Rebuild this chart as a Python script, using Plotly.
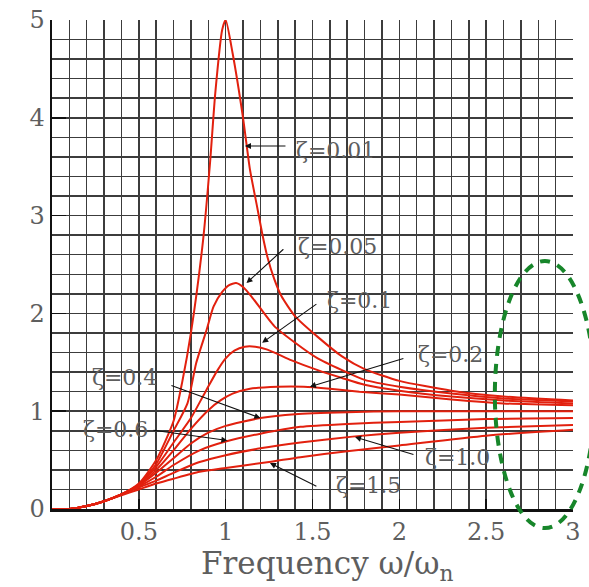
import plotly.graph_objects as go

# ---- data ----
zeta_labels = ["ζ=0.01", "ζ=0.05", "ζ=0.1", "ζ=0.2", "ζ=0.4", "ζ=0.6", "ζ=1.0", "ζ=1.5"]

x_001 = [0, 0.1, 0.2, 0.3, 0.4, 0.5, 0.6, 0.7, 0.75, 0.8, 0.87, 0.91, 0.94, 0.98, 1.0, 1.04, 1.1, 1.14, 1.18, 1.21, 1.24, 1.28, 1.32, 1.40, 1.53, 1.67, 1.8, 2.0, 2.3, 2.6, 3.0]
y_001 = [0, 0.0, 0.03, 0.08, 0.15, 0.26, 0.5, 0.9, 1.3, 1.8, 2.75, 3.54, 4.25, 4.9, 5.0, 4.66, 4.0, 3.47, 3.1, 2.82, 2.58, 2.35, 2.18, 1.97, 1.76, 1.56, 1.43, 1.31, 1.21, 1.15, 1.11]

x_005 = [0, 0.1, 0.2, 0.3, 0.4, 0.5, 0.6, 0.7, 0.78, 0.83, 0.89, 0.93, 0.98, 1.02, 1.06, 1.1, 1.15, 1.28, 1.40, 1.53, 1.67, 1.8, 2.0, 2.3, 2.6, 3.0]
y_005 = [0, 0.0, 0.03, 0.08, 0.15, 0.25, 0.46, 0.8, 1.08, 1.49, 1.83, 2.07, 2.22, 2.29, 2.31, 2.27, 2.17, 1.87, 1.70, 1.54, 1.42, 1.32, 1.25, 1.18, 1.13, 1.10]

x_01 = [0, 0.1, 0.2, 0.3, 0.4, 0.5, 0.6, 0.7, 0.8, 0.89, 0.95, 1.0, 1.05, 1.11, 1.17, 1.24, 1.38, 1.53, 1.67, 1.8, 2.0, 2.3, 2.6, 3.0]
y_01 = [0, 0.0, 0.03, 0.08, 0.15, 0.25, 0.43, 0.68, 0.93, 1.22, 1.41, 1.54, 1.62, 1.66, 1.66, 1.63, 1.52, 1.42, 1.34, 1.27, 1.21, 1.15, 1.11, 1.08]

x_02 = [0, 0.1, 0.2, 0.3, 0.4, 0.5, 0.6, 0.7, 0.8, 0.9, 0.97, 1.04, 1.14, 1.3, 1.45, 1.6, 1.77, 2.0, 2.3, 2.6, 3.0]
y_02 = [0, 0.0, 0.03, 0.08, 0.15, 0.24, 0.4, 0.6, 0.82, 1.01, 1.11, 1.18, 1.23, 1.25, 1.25, 1.23, 1.20, 1.17, 1.12, 1.08, 1.06]

x_04 = [0, 0.1, 0.2, 0.3, 0.4, 0.5, 0.6, 0.7, 0.8, 0.9, 1.0, 1.2, 1.4, 1.7, 2.0, 2.5, 3.0]
y_04 = [0, 0.0, 0.03, 0.08, 0.15, 0.24, 0.37, 0.52, 0.67, 0.78, 0.85, 0.93, 0.97, 0.99, 1.0, 1.0, 1.0]

x_06 = [0, 0.1, 0.2, 0.3, 0.4, 0.5, 0.6, 0.7, 0.85, 1.0, 1.2, 1.43, 1.7, 2.0, 2.5, 3.0]
y_06 = [0, 0.0, 0.03, 0.08, 0.15, 0.23, 0.33, 0.45, 0.6, 0.69, 0.77, 0.84, 0.87, 0.89, 0.92, 0.93]

x_10 = [0, 0.1, 0.2, 0.3, 0.4, 0.5, 0.6, 0.7, 0.85, 1.0, 1.2, 1.43, 1.73, 2.0, 2.5, 3.0]
y_10 = [0, 0.0, 0.03, 0.08, 0.15, 0.22, 0.29, 0.37, 0.48, 0.55, 0.62, 0.68, 0.74, 0.78, 0.83, 0.86]

x_15 = [0, 0.1, 0.2, 0.3, 0.4, 0.5, 0.6, 0.7, 0.85, 1.0, 1.25, 1.43, 1.7, 2.0, 2.5, 3.0]
y_15 = [0, 0.0, 0.03, 0.08, 0.14, 0.2, 0.26, 0.31, 0.38, 0.42, 0.48, 0.53, 0.59, 0.65, 0.75, 0.81]

curves_x = [x_001, x_005, x_01, x_02, x_04, x_06, x_10, x_15]
curves_y = [y_001, y_005, y_01, y_02, y_04, y_06, y_10, y_15]

x_tick_vals = [0.5, 1, 1.5, 2, 2.5, 3]
x_tick_text = ["0.5", "1", "1.5", "2", "2.5", "3"]
y_tick_vals = [0, 1, 2, 3, 4, 5]
y_tick_text = ["0", "1", "2", "3", "4", "5"]
x_title = "Frequency ω/ω<sub>n</sub>"

# label placement in data units: arrow head, arrow tail, text centre
label_heads = [(1.111, 3.712), (1.12, 2.31), (1.21, 1.70), (1.485, 1.25), (1.20, 0.93), (1.01, 0.70), (1.745, 0.736), (1.255, 0.47)]
label_tails = [(1.353, 3.712), (1.341, 2.67), (1.531, 2.106), (2.032, 1.544), (0.679, 1.268), (0.576, 0.808), (2.09, 0.552), (1.531, 0.225)]
label_texts = [(1.635, 3.67), (1.646, 2.68), (1.773, 2.137), (2.297, 1.575), (0.415, 1.34), (0.363, 0.81), (2.337, 0.53), (1.82, 0.245)]

RED = "#e2200e"
GRID = "#3c3c3c"
TXT = "#5e5e5e"
SERIF = "DejaVu Serif"

fig = go.Figure()
for name, xs, ys in zip(zeta_labels, curves_x, curves_y):
    fig.add_trace(go.Scatter(x=xs, y=ys, mode="lines", name=name,
                             line=dict(color=RED, width=2, shape="spline", smoothing=0.6),
                             showlegend=False, hoverinfo="skip"))

for name, (hx, hy), (ax, ay), (tx, ty) in zip(zeta_labels, label_heads, label_tails, label_texts):
    fig.add_annotation(x=hx, y=hy, ax=ax, ay=ay, xref="x", yref="y", axref="x", ayref="y",
                       text="", showarrow=True, arrowhead=2, arrowsize=1.1, arrowwidth=1.1,
                       arrowcolor="#111", standoff=0, startstandoff=0)
    fig.add_annotation(x=tx, y=ty, xref="x", yref="y", text=name, showarrow=False,
                       font=dict(family=SERIF, size=22, color=TXT), xanchor="center", yanchor="middle")

fig.add_annotation(x=0.528, y=-0.115, xref="paper", yref="paper", text=x_title, showarrow=False,
                   font=dict(family=SERIF, size=31, color=TXT), xanchor="center", yanchor="middle")

fig.add_shape(type="circle", xref="paper", yref="paper", x0=0.850, x1=1.042, y0=-0.039, y1=0.507,
              line=dict(color="#17862a", width=4, dash="10px,8px"))

fig.update_layout(
    width=589, height=587,
    margin=dict(l=52, r=16, t=20, b=78),
    paper_bgcolor="white", plot_bgcolor="white",
    xaxis=dict(range=[0, 3], tickvals=x_tick_vals, ticktext=x_tick_text,
               ticks="inside", ticklen=10, tickcolor="#111", tickwidth=1.5,
               showgrid=True, gridcolor=GRID, gridwidth=1.5,
               minor=dict(dtick=0.1, tick0=0, showgrid=True, gridcolor=GRID, gridwidth=1.5),
               showline=True, linecolor="#111", linewidth=2.5, zeroline=False, automargin=False,
               ticklabeloverflow="allow",
               tickfont=dict(family=SERIF, size=24, color=TXT)),
    yaxis=dict(range=[0, 5], tickvals=y_tick_vals, ticktext=y_tick_text,
               ticks="inside", ticklen=14, tickcolor="#111", tickwidth=1.5,
               showgrid=True, gridcolor=GRID, gridwidth=1.5,
               minor=dict(dtick=0.2, tick0=0, showgrid=True, gridcolor=GRID, gridwidth=1.5),
               showline=True, linecolor="#111", linewidth=2.5, zeroline=False, automargin=False,
               ticklabeloverflow="allow",
               tickfont=dict(family=SERIF, size=24, color=TXT)),
)

fig.write_html("out.html", config={"displayModeBar": False, "staticPlot": True},
               post_script="document.body.style.margin='0';document.body.style.overflow='hidden';")
